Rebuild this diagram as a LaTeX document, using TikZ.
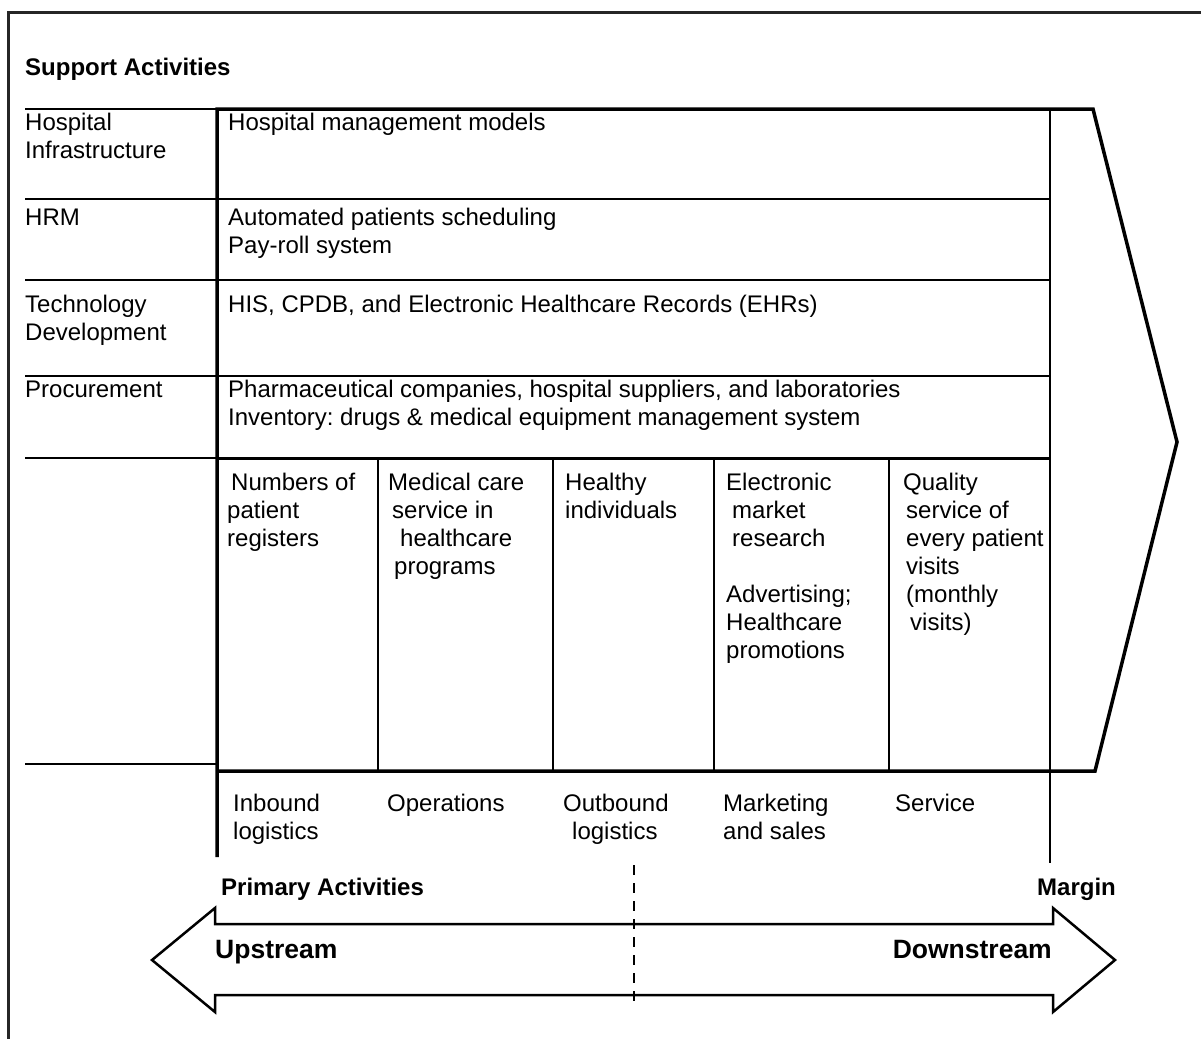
\documentclass[tikz,border=0pt]{standalone}
\usepackage{fontspec}
\setmainfont{Liberation Sans}
\frenchspacing
\begin{document}
\begin{tikzpicture}[x=1pt,y=-1pt,
  txt/.style={inner sep=0pt, anchor=base west, align=left, font=\fontsize{24}{28}\selectfont},
  mtxt/.style={inner sep=0pt, anchor=north west, align=left, font=\fontsize{24}{28}\selectfont},
  btxt/.style={inner sep=0pt, anchor=base west, align=left, font=\fontsize{24}{28}\selectfont\bfseries},
  bigbtxt/.style={inner sep=0pt, anchor=base west, font=\fontsize{26.5}{30}\selectfont\bfseries},
  frameline/.style={line width=3pt, black!85},
  heavy/.style={line width=3.5pt},
  light/.style={line width=2pt},
  cutline/.style={line width=1.6pt, dash pattern=on 10pt off 8pt}]
\useasboundingbox (0,0) rectangle (1201,1039);
% outer frame (top and left edges)
\draw[frameline] (1201,12) -- (8,12) -- (8,1039);

% left label rules
\draw[light] (25,109) -- (217,109);
\draw[light] (25,199) -- (1050,199);
\draw[light] (25,280) -- (1050,280);
\draw[light] (25,376) -- (1050,376);
\draw[light] (25,458) -- (217,458);
\draw[line width=3pt] (217,458) -- (1050,458);
\draw[light] (25,764) -- (217,764);

% primary column separators
\foreach \cx in {378,553,714,889} \draw[light] (\cx,458) -- (\cx,771);

% margin line
\draw[light] (1050,109) -- (1050,863);

% main value-chain arrow outline
\draw[heavy, line join=miter] (217,857) -- (217,109) -- (1093,109) -- (1177,442) -- (1095,771) -- (217,771);

% up/downstream double arrow
\draw[line width=2.5pt, line join=miter] (152,960) -- (215,908) -- (215,924) -- (1053,924) -- (1053,908)
  -- (1115,960) -- (1053,1012) -- (1053,995) -- (215,995) -- (215,1012) -- cycle;

% dashed divider
\coordinate (dtop) at (634,865);
\coordinate (dbot) at (634,1008);
\draw[cutline] (dtop) -- (dbot);

% titles
\node[btxt] (support) at (25,75) {Support Activities};
\node[btxt] (primary) at (221,895) {Primary Activities};
\node[btxt] (margin) at (1037,895) {Margin};
\node[bigbtxt] (upstream) at (215,958) {Upstream};
\node[bigbtxt, anchor=base east] (downstream) at (1052,958) {Downstream};

% support activity labels
\node[mtxt] (infra) at (25,112.8) {Hospital\\Infrastructure};
\node[txt] (hrm) at (25,225) {HRM};
\node[mtxt] (tech) at (25,294.8) {Technology\\Development};
\node[txt] (proc) at (25,397) {Procurement};

\node[txt] (infraT) at (228,130) {Hospital management models};
\node[mtxt] (hrmT) at (228,207.8) {Automated patients scheduling\\Pay-roll system};
\node[txt] (techT) at (228,312) {HIS, CPDB, and Electronic Healthcare Records (EHRs)};
\node[mtxt] (procT) at (228,379.8) {Pharmaceutical companies, hospital suppliers, and laboratories\\Inventory: drugs \& medical equipment management system};

% primary activity cells
\node[mtxt] (c1) at (227,472.8) {\hspace*{4pt}Numbers of\\patient\\registers};
\node[mtxt] (c2) at (388,472.8) {Medical care\\\hspace*{4pt}service in\\\hspace*{12pt}healthcare\\\hspace*{6pt}programs};
\node[mtxt] (c3) at (565,472.8) {Healthy\\individuals};
\node[mtxt] (c4) at (726,472.8) {Electronic\\\hspace*{6pt}market\\\hspace*{6pt}research\\[28pt]Advertising;\\Healthcare\\promotions};
\node[mtxt] (c5) at (903,472.8) {Quality\\\hspace*{3pt}service of\\\hspace*{3pt}every patient\\\hspace*{3pt}visits\\\hspace*{3pt}(monthly\\\hspace*{7pt}visits)};

% primary activity names
\node[mtxt] (p1) at (233,793.8) {Inbound\\logistics};
\node[txt] (p2) at (387,811) {Operations};
\node[mtxt] (p3) at (563,793.8) {Outbound\\\hspace*{9pt}logistics};
\node[mtxt] (p4) at (723,793.8) {Marketing\\and sales};
\node[txt] (p5) at (895,811) {Service};
\end{tikzpicture}
\end{document}
